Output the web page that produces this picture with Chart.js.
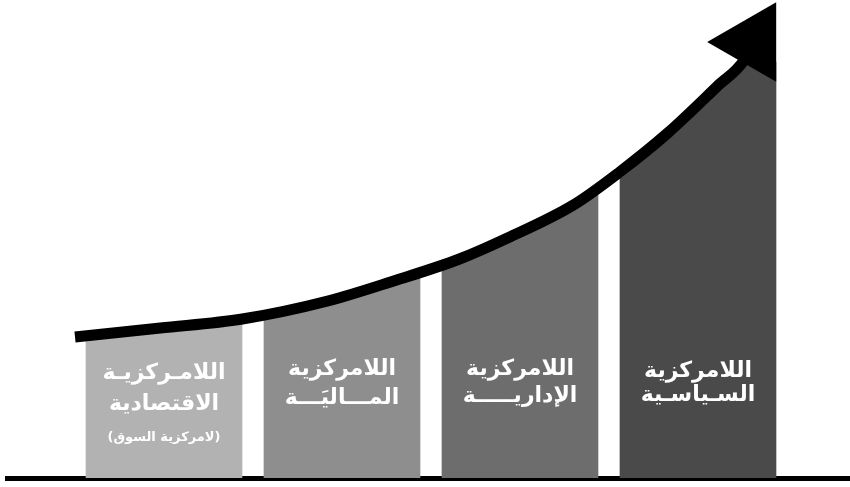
<!DOCTYPE html>
<html lang="ar">
<head>
<meta charset="UTF-8">
<title>اللامركزية</title>
<style>
  html, body { margin: 0; padding: 0; background: #fff; }
  .wrap { width: 850px; height: 487px; }
</style>
</head>
<body>
<div class="wrap"><canvas id="chart"></canvas></div>
<script src="https://cdn.jsdelivr.net/npm/chart.js@4.4.1/dist/chart.umd.min.js"></script>
<script>
// bar captions (one array of lines per bar)
const labels = [
    ['اللامـركزيـة', 'الاقتصادية', '(لامركزية السوق)'],
    ['اللامركزية', 'المـــاليَـــة'],
    ['اللامركزية', 'الإداريـــــة'],
    ['اللامركزية', 'السـياسـية']
];
const barPos = [1, 2, 3, 4];
const barHeights = [159, 206, 291, 416];
const barColors = ['#b2b2b2', '#8e8e8e', '#6d6d6d', '#4a4a4a'];

// rising arrow
const curveX = [0.50, 0.98, 1.44, 1.92, 2.29, 2.66, 2.93, 3.30, 3.56, 3.83, 4.11, 4.26, 4.31];
const curveY = [141, 150, 159, 177, 197, 219, 240, 273, 306, 345, 392, 418, 436];

// text rows inside the bars (pixel y)
const rowsY = [[373, 404, 438], [369, 398], [369, 396], [371, 395]];

const barText = {
    id: 'barText',
    afterDatasetsDraw(chart) {
        const ctx = chart.ctx;
        const bars = chart.getDatasetMeta(0).data;
        ctx.save();
        ctx.fillStyle = '#fff';
        ctx.textAlign = 'center';
        ctx.textBaseline = 'middle';
        ctx.direction = 'rtl';
        bars.forEach((bar, i) => {
            labels[i].forEach((line, j) => {
                ctx.font = j === 2 ? 'bold 13px "DejaVu Sans"' : 'bold 22px "DejaVu Sans"';
                ctx.fillText(line, bar.x, rowsY[i][j]);
            });
        });
        ctx.restore();
    }
};

new Chart(document.getElementById('chart'), {
    data: {
        datasets: [
            {
                type: 'bar',
                order: 2,
                data: barPos.map((x, i) => ({x: x, y: barHeights[i]})),
                backgroundColor: barColors,
                borderWidth: 0,
                barThickness: 156
            },
            {
                type: 'line',
                order: 1,
                data: curveX.map((x, i) => ({x: x, y: curveY[i]})),
                borderColor: '#000',
                borderWidth: 11,
                cubicInterpolationMode: 'monotone',
                fill: 'end',
                backgroundColor: '#fff',
                pointStyle: 'triangle',
                pointRotation: 30,
                pointRadius: curveX.map((_, i) => i === curveX.length - 1 ? 46 : 0),
                pointBackgroundColor: '#000',
                pointBorderWidth: 0,
                clip: false
            }
        ]
    },
    options: {
        responsive: true,
        maintainAspectRatio: false,
        animation: false,
        layout: { autoPadding: false, padding: { left: 7, right: 0, top: 0, bottom: 0 } },
        plugins: {
            legend: { display: false },
            tooltip: { enabled: false }
        },
        scales: {
            x: {
                type: 'linear',
                offset: false,
                min: 0.118,
                max: 4.854,
                ticks: { display: false },
                grid: { display: false },
                border: { display: true, color: '#000', width: 5 },
                afterFit: (s) => { s.height = 9; }
            },
            y: {
                display: false,
                min: 0,
                max: 478
            }
        }
    },
    plugins: [barText]
});
</script>
</body>
</html>
